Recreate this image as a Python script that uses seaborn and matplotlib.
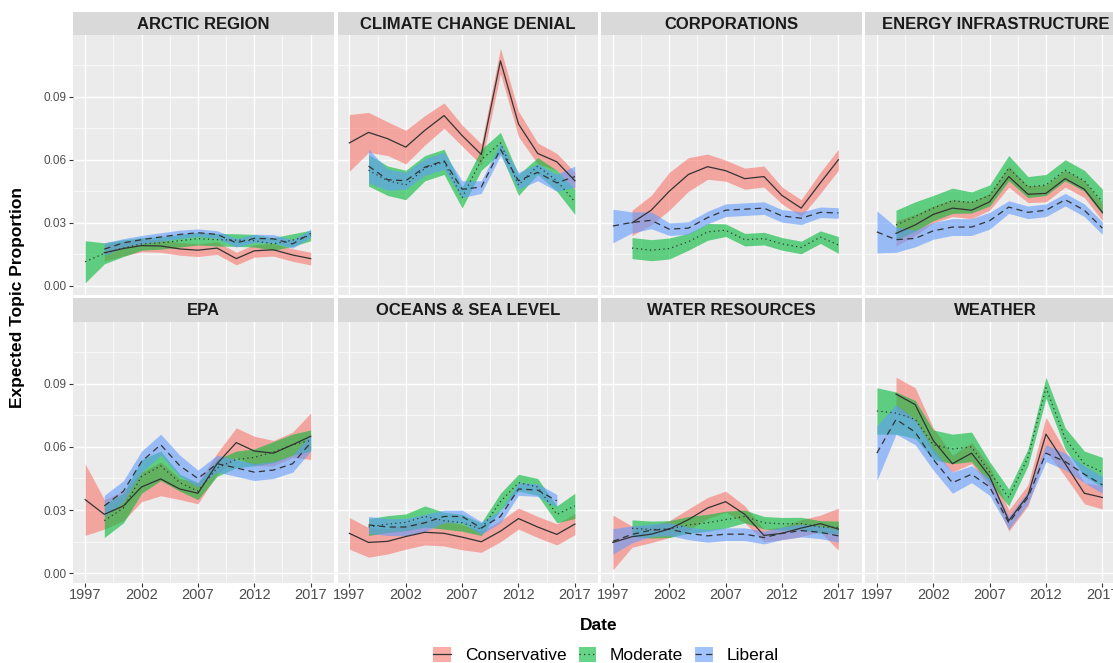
import numpy as np
import pandas as pd
import matplotlib
matplotlib.use("Agg")
import matplotlib.pyplot as plt
from matplotlib.patches import Patch
from matplotlib.lines import Line2D
from matplotlib.ticker import FixedLocator
import seaborn as sns

nan = np.nan

# ---------------------------------------------------------------- data
YEARS = [1997.0, 1998.7, 2000.4, 2002.0, 2003.7, 2005.4, 2007.0,
         2008.7, 2010.4, 2012.0, 2013.7, 2015.4, 2017.0]

TOPICS = ["ARCTIC REGION", "CLIMATE CHANGE DENIAL", "CORPORATIONS",
          "ENERGY INFRASTRUCTURE", "EPA", "OCEANS & SEA LEVEL",
          "WATER RESOURCES", "WEATHER"]
PARTIES = ["Conservative", "Moderate", "Liberal"]

X_TICKS = [1997, 2002, 2007, 2012, 2017]
X_TICK_LABELS = ["1997", "2002", "2007", "2012", "2017"]
Y_TICKS = [0.00, 0.03, 0.06, 0.09]
Y_TICK_LABELS = ["0.00", "0.03", "0.06", "0.09"]

# expected topic proportion (point estimate) and half-width of the interval
arctic_con = [nan, .0158, .0178, .0192, .0190, .0176, .0170, .0180, .0130, .0167, .0172, .0147, .0130]
arctic_con_ci = [nan, .004, .0035, .003, .003, .003, .003, .003, .003, .003, .003, .003, .003]
arctic_mod = [.0115, .0155, .0180, .0200, .0205, .0215, .0225, .0220, .0218, .0215, .0200, .0218, .0240]
arctic_mod_ci = [.010, .005, .004, .003, .003, .003, .003, .003, .003, .003, .003, .003, .0025]
arctic_lib = [nan, .0175, .0205, .0220, .0233, .0245, .0253, .0245, .0205, .0226, .0224, .0200, .0250]
arctic_lib_ci = [nan, .003, .002, .002, .002, .002, .0018, .0018, .002, .002, .002, .002, .002]

ccd_con = [.068, .073, .070, .066, .074, .081, .0715, .0625, .107, .077, .063, .059, .050]
ccd_con_ci = [.0135, .0095, .008, .008, .007, .006, .005, .005, .006, .006, .005, .004, .004]
ccd_mod = [nan, .055, .050, .048, .056, .059, .042, .060, .068, .048, .057, .050, .040]
ccd_mod_ci = [nan, .0075, .007, .007, .006, .006, .005, .005, .005, .005, .004, .005, .006]
ccd_lib = [nan, .057, .0505, .050, .0565, .0595, .046, .047, .065, .050, .054, .049, .052]
ccd_lib_ci = [nan, .008, .005, .004, .004, .004, .004, .003, .003, .004, .004, .004, .005]

corp_con = [nan, .030, .036, .045, .053, .0567, .0548, .051, .052, .043, .037, .049, .060]
corp_con_ci = [nan, .006, .007, .009, .008, .006, .005, .005, .005, .004, .004, .005, .005]
corp_mod = [nan, .018, .017, .0178, .021, .0257, .0265, .022, .0225, .020, .0183, .0232, .0195]
corp_mod_ci = [nan, .005, .005, .005, .004, .004, .003, .003, .003, .003, .003, .003, .004]
corp_lib = [.0285, .0302, .0312, .027, .0275, .0325, .036, .0365, .037, .0333, .0322, .035, .0347]
corp_lib_ci = [.008, .005, .004, .003, .003, .003, .003, .003, .003, .003, .003, .0025, .0025]

energy_con = [nan, .025, .029, .034, .037, .036, .040, .052, .0436, .044, .051, .046, .035]
energy_con_ci = [nan, .006, .005, .004, .004, .004, .004, .005, .004, .004, .004, .004, .004]
energy_mod = [nan, .029, .033, .037, .0405, .0397, .043, .056, .047, .048, .055, .050, .040]
energy_mod_ci = [nan, .007, .007, .006, .006, .005, .005, .006, .005, .005, .005, .005, .006]
energy_lib = [.0257, .022, .0226, .0262, .028, .028, .031, .0375, .035, .036, .041, .036, .0275]
energy_lib_ci = [.010, .006, .004, .004, .004, .004, .004, .003, .003, .003, .003, .003, .003]

epa_con = [.035, .028, .032, .041, .0448, .040, .038, .052, .062, .058, .057, .061, .065]
epa_con_ci = [.017, .007, .007, .007, .008, .005, .005, .005, .007, .007, .006, .006, .011]
epa_mod = [nan, .025, .031, .046, .051, .043, .039, .050, .054, .055, .0575, .061, .063]
epa_mod_ci = [nan, .008, .007, .008, .007, .004, .004, .004, .004, .004, .005, .005, .005]
epa_lib = [nan, .032, .039, .053, .061, .051, .045, .052, .050, .048, .049, .052, .062]
epa_lib_ci = [nan, .005, .005, .005, .005, .005, .004, .004, .004, .004, .004, .004, .004]

oceans_con = [.019, .0147, .0152, .0175, .0195, .019, .0172, .015, .020, .026, .022, .0185, .0234]
oceans_con_ci = [.0075, .007, .006, .006, .006, .006, .006, .005, .005, .005, .005, .005, .005]
oceans_mod = [nan, .022, .0234, .0242, .027, .025, .024, .021, .034, .043, .041, .028, .032]
oceans_mod_ci = [nan, .004, .004, .004, .005, .004, .004, .003, .004, .004, .004, .004, .006]
oceans_lib = [nan, .023, .022, .022, .024, .027, .027, .0215, .027, .040, .0395, .0344, nan]
oceans_lib_ci = [nan, .004, .004, .004, .004, .003, .003, .003, .003, .003, .003, .003, nan]

water_con = [.0147, .0174, .0186, .021, .0255, .031, .034, .028, .018, .019, .0215, .0236, .021]
water_con_ci = [.013, .005, .004, .004, .005, .005, .005, .004, .003, .003, .004, .004, .010]
water_mod = [nan, .0214, .0208, .021, .023, .024, .0255, .027, .024, .0235, .0236, .022, .0218]
water_mod_ci = [nan, .004, .004, .004, .004, .004, .004, .003, .003, .003, .003, .003, .003]
water_lib = [.0152, .0185, .0205, .021, .019, .0178, .0186, .0186, .017, .019, .0203, .0195, .0178]
water_lib_ci = [.006, .004, .003, .003, .003, .003, .003, .003, .003, .003, .003, .003, .003]

weather_con = [nan, .085, .080, .063, .052, .057, .046, .025, .037, .066, .052, .038, .036]
weather_con_ci = [nan, .008, .008, .006, .004, .005, .005, .005, .005, .008, .006, .005, .0055]
weather_mod = [.077, .076, .073, .061, .059, .060, .048, .036, .055, .088, .064, .052, .048]
weather_mod_ci = [.011, .010, .009, .007, .007, .007, .005, .004, .004, .005, .005, .006, .007]
weather_lib = [.057, .073, .067, .054, .043, .047, .041, .024, .036, .057, .053, .047, .042]
weather_lib_ci = [.013, .007, .006, .005, .005, .004, .004, .003, .003, .004, .004, .004, .004]

SERIES = {
    ("ARCTIC REGION", "Conservative"): (arctic_con, arctic_con_ci),
    ("ARCTIC REGION", "Moderate"): (arctic_mod, arctic_mod_ci),
    ("ARCTIC REGION", "Liberal"): (arctic_lib, arctic_lib_ci),
    ("CLIMATE CHANGE DENIAL", "Conservative"): (ccd_con, ccd_con_ci),
    ("CLIMATE CHANGE DENIAL", "Moderate"): (ccd_mod, ccd_mod_ci),
    ("CLIMATE CHANGE DENIAL", "Liberal"): (ccd_lib, ccd_lib_ci),
    ("CORPORATIONS", "Conservative"): (corp_con, corp_con_ci),
    ("CORPORATIONS", "Moderate"): (corp_mod, corp_mod_ci),
    ("CORPORATIONS", "Liberal"): (corp_lib, corp_lib_ci),
    ("ENERGY INFRASTRUCTURE", "Conservative"): (energy_con, energy_con_ci),
    ("ENERGY INFRASTRUCTURE", "Moderate"): (energy_mod, energy_mod_ci),
    ("ENERGY INFRASTRUCTURE", "Liberal"): (energy_lib, energy_lib_ci),
    ("EPA", "Conservative"): (epa_con, epa_con_ci),
    ("EPA", "Moderate"): (epa_mod, epa_mod_ci),
    ("EPA", "Liberal"): (epa_lib, epa_lib_ci),
    ("OCEANS & SEA LEVEL", "Conservative"): (oceans_con, oceans_con_ci),
    ("OCEANS & SEA LEVEL", "Moderate"): (oceans_mod, oceans_mod_ci),
    ("OCEANS & SEA LEVEL", "Liberal"): (oceans_lib, oceans_lib_ci),
    ("WATER RESOURCES", "Conservative"): (water_con, water_con_ci),
    ("WATER RESOURCES", "Moderate"): (water_mod, water_mod_ci),
    ("WATER RESOURCES", "Liberal"): (water_lib, water_lib_ci),
    ("WEATHER", "Conservative"): (weather_con, weather_con_ci),
    ("WEATHER", "Moderate"): (weather_mod, weather_mod_ci),
    ("WEATHER", "Liberal"): (weather_lib, weather_lib_ci),
}

rows = []
for (topic, party), (mean, ci) in SERIES.items():
    for yr, m, c in zip(YEARS, mean, ci):
        if not np.isnan(m):
            rows.append(dict(topic=topic, party=party, year=yr,
                             prop=m, lo=m - c, hi=m + c))
df = pd.DataFrame(rows)

# ---------------------------------------------------------------- style
FILL = {"Conservative": "#F8766D", "Moderate": "#00BA38", "Liberal": "#619CFF"}
DASHES = {"Conservative": "", "Moderate": (1, 2.6), "Liberal": (5, 3.5)}
LINESTYLE = {"Conservative": "-", "Moderate": (0, (1, 2.6)), "Liberal": (0, (5, 3.5))}
LINE_COLOR = "#333333"
PANEL_BG = "#EBEBEB"
STRIP_BG = "#D9D9D9"
TICK_TEXT = "#4D4D4D"

plt.rcParams["font.family"] = ["Liberation Sans", "DejaVu Sans"]

W, H = 1113, 663
fig = plt.figure(figsize=(W / 100, H / 100), dpi=100)
fig.patch.set_facecolor("white")

col_left = [73.3, 337.5, 601.0, 865.0]
panel_w = 260.5
row_geom = [(35.0, 295.0, 12.3), (321.7, 582.5, 298.3)]  # panel top, panel bottom, strip top (px)

XLIM = (1995.95, 2019.05)
YLIM = (-0.0043, 0.1193)
X_MINOR = [1994.5, 1999.5, 2004.5, 2009.5, 2014.5]
Y_MINOR = [0.015, 0.045, 0.075, 0.105]

for i, topic in enumerate(TOPICS):
    r, c = divmod(i, 4)
    top, bot, strip_top = row_geom[r]
    ax = fig.add_axes([col_left[c] / W, 1 - bot / H, panel_w / W, (bot - top) / H])
    sax = fig.add_axes([col_left[c] / W, 1 - top / H, panel_w / W, (top - strip_top) / H])

    sub = df[df["topic"] == topic]

    # confidence ribbons
    for party in PARTIES:
        s = sub[sub["party"] == party].sort_values("year")
        ax.fill_between(s["year"], s["lo"], s["hi"], color=FILL[party],
                        alpha=0.6, linewidth=0, zorder=2)

    # estimate lines
    sns.lineplot(data=sub, x="year", y="prop", style="party",
                 style_order=PARTIES, dashes=DASHES, color=LINE_COLOR,
                 linewidth=0.9, estimator=None, legend=False, ax=ax, zorder=3)

    ax.set_xlabel("")
    ax.set_ylabel("")
    ax.set_facecolor(PANEL_BG)
    for sp in ax.spines.values():
        sp.set_visible(False)
    ax.set_xlim(*XLIM)
    ax.set_ylim(*YLIM)
    ax.set_xticks(X_TICKS)
    ax.set_xticklabels(X_TICK_LABELS)
    ax.set_yticks(Y_TICKS)
    ax.set_yticklabels(Y_TICK_LABELS)
    ax.xaxis.set_minor_locator(FixedLocator(X_MINOR))
    ax.yaxis.set_minor_locator(FixedLocator(Y_MINOR))
    ax.set_axisbelow(True)
    ax.grid(which="major", color="white", linewidth=1.0, zorder=0)
    ax.grid(which="minor", color="white", linewidth=0.5, zorder=0)
    ax.tick_params(which="minor", length=0)
    ax.tick_params(which="major", length=2.75, width=0.8, color="#333333")
    ax.tick_params(axis="x", labelsize=10.5, labelcolor=TICK_TEXT, pad=1.5)
    ax.tick_params(axis="y", labelsize=8.5, labelcolor=TICK_TEXT, pad=2)
    if c != 0:
        ax.tick_params(axis="y", left=False, labelleft=False)
    if r == 0:
        ax.tick_params(axis="x", bottom=False, labelbottom=False)

    # facet strip
    sax.set_facecolor(STRIP_BG)
    sax.set_xticks([])
    sax.set_yticks([])
    for sp in sax.spines.values():
        sp.set_visible(False)
    sax.text(0.5, 0.47, topic, ha="center", va="center", fontsize=12,
             fontweight="bold", color="#1A1A1A", transform=sax.transAxes)

# axis titles
fig.text(18 / W, 1 - 297 / H, "Expected Topic Proportion", rotation=90,
         ha="center", va="center", fontsize=12.5, fontweight="bold")
fig.text(599 / W, 1 - 626 / H, "Date", ha="center", va="center",
         fontsize=12.5, fontweight="bold")

# legend
handles = [(Patch(facecolor=FILL[p], alpha=0.6, edgecolor="none"),
            Line2D([], [], color=LINE_COLOR, linestyle=LINESTYLE[p], linewidth=0.9))
           for p in PARTIES]
fig.legend(handles, PARTIES, loc="center", bbox_to_anchor=(606 / W, 1 - 655 / H),
           ncol=3, frameon=False, fontsize=12.5, handlelength=1.0,
           handleheight=1.0, handletextpad=0.8, columnspacing=0.7,
           borderpad=0.0)

fig.savefig("out.png", dpi=100)
